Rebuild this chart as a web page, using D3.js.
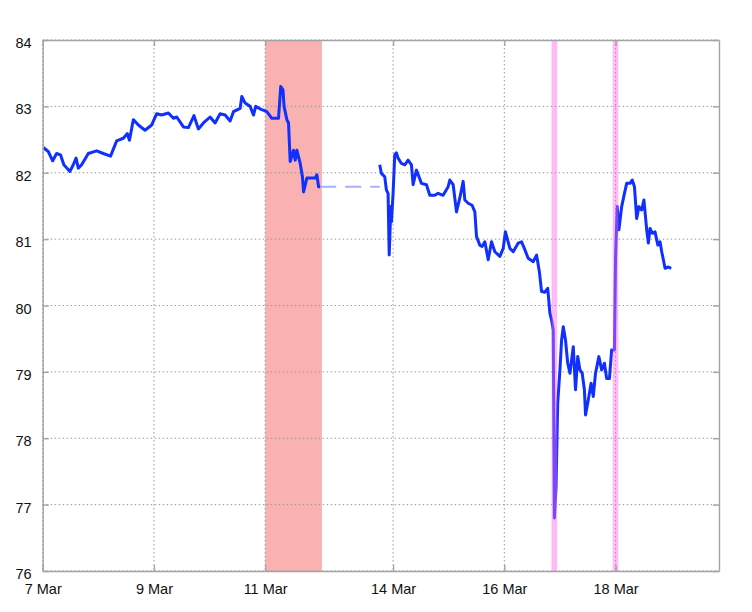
<!DOCTYPE html>
<html>
<head>
<meta charset="utf-8">
<script src="https://cdn.jsdelivr.net/npm/d3@7"></script>
<style>
  body { margin: 0; background: #fff; }
  text { font-family: "Liberation Sans", Arial, sans-serif; }
</style>
</head>
<body>
<svg class="chart"></svg>
<script>
// x is in trading days from 7 Mar (weekend squeezed out)
const dayTicks = [0, 2, 4, 6.3, 8.3, 10.3];
const dayLabels = ["7 Mar", "9 Mar", "11 Mar", "14 Mar", "16 Mar", "18 Mar"];
const rateTicks = [76, 77, 78, 79, 80, 81, 82, 83, 84];

const quakeDay = [4, 5.02];        // red band
const markerDays = [9.2, 10.3];    // pink lines

// before the weekend
const weekOne = [
  [0.01, 82.38], [0.10, 82.32], [0.18, 82.18], [0.25, 82.29], [0.32, 82.27],
  [0.38, 82.12], [0.49, 82.02], [0.55, 82.12], [0.60, 82.22], [0.64, 82.07],
  [0.70, 82.12], [0.82, 82.29], [0.97, 82.33], [1.09, 82.29], [1.22, 82.25],
  [1.33, 82.48], [1.45, 82.52], [1.52, 82.59], [1.56, 82.49], [1.63, 82.80],
  [1.72, 82.72], [1.84, 82.64], [1.96, 82.72], [2.05, 82.89], [2.14, 82.87],
  [2.26, 82.90], [2.35, 82.82], [2.41, 82.84], [2.53, 82.69], [2.62, 82.68],
  [2.72, 82.86], [2.80, 82.66], [2.89, 82.75], [3.01, 82.84], [3.10, 82.75],
  [3.19, 82.89], [3.28, 82.87], [3.37, 82.78], [3.43, 82.92], [3.55, 82.97],
  [3.58, 83.15], [3.64, 83.05], [3.73, 83.00], [3.79, 82.87], [3.83, 83.00],
  [3.94, 82.95], [4.03, 82.92], [4.12, 82.82], [4.24, 82.82], [4.28, 83.30],
  [4.32, 83.25], [4.34, 83.00], [4.39, 82.80], [4.42, 82.75], [4.45, 82.17],
  [4.51, 82.34], [4.54, 82.19], [4.57, 82.34], [4.63, 82.14], [4.67, 81.94],
  [4.69, 81.71], [4.75, 81.92], [4.81, 81.92], [4.90, 81.92], [4.93, 81.97],
  [4.96, 81.79], [4.99, 81.79]
];

// after the weekend
const weekTwo = [
  [6.06, 82.12], [6.09, 81.99], [6.15, 81.94], [6.18, 81.74], [6.21, 81.69],
  [6.23, 80.76], [6.26, 81.49], [6.27, 81.26], [6.30, 81.69], [6.33, 82.27],
  [6.36, 82.30], [6.39, 82.22], [6.45, 82.14], [6.51, 82.12], [6.57, 82.19],
  [6.63, 82.12], [6.66, 81.82], [6.72, 82.04], [6.81, 81.84], [6.90, 81.82],
  [6.96, 81.66], [7.05, 81.66], [7.11, 81.69], [7.20, 81.66], [7.29, 81.79],
  [7.32, 81.89], [7.38, 81.82], [7.44, 81.41], [7.50, 81.62], [7.56, 81.87],
  [7.59, 81.59], [7.65, 81.54], [7.72, 81.51], [7.77, 81.41], [7.80, 81.04],
  [7.86, 80.91], [7.90, 80.89], [7.95, 80.96], [8.01, 80.69], [8.07, 80.96],
  [8.13, 80.81], [8.22, 80.74], [8.28, 80.86], [8.32, 81.11], [8.40, 80.86],
  [8.46, 80.81], [8.55, 80.94], [8.61, 80.96], [8.66, 80.86], [8.73, 80.71],
  [8.82, 80.66], [8.88, 80.76], [8.93, 80.51], [8.97, 80.21], [9.03, 80.20],
  [9.08, 80.26], [9.12, 79.88], [9.15, 79.78], [9.18, 79.63], [9.20, 76.80],
  [9.23, 77.27], [9.26, 78.53], [9.30, 79.03], [9.33, 79.48], [9.36, 79.68],
  [9.40, 79.48], [9.44, 79.13], [9.48, 78.98], [9.54, 79.38], [9.58, 78.73],
  [9.62, 79.23], [9.66, 79.03], [9.70, 78.98], [9.74, 78.73], [9.76, 78.35],
  [9.81, 78.58], [9.86, 78.83], [9.90, 78.63], [9.94, 78.98], [10.00, 79.23],
  [10.05, 79.03], [10.10, 79.13], [10.14, 78.90], [10.19, 78.90], [10.23, 79.33],
  [10.28, 79.33], [10.30, 80.74], [10.33, 81.49], [10.36, 81.14], [10.41, 81.49],
  [10.46, 81.69], [10.50, 81.84], [10.56, 81.84], [10.60, 81.89], [10.64, 81.79],
  [10.68, 81.31], [10.72, 81.49], [10.77, 81.44], [10.81, 81.59], [10.86, 81.14],
  [10.89, 80.94], [10.92, 81.16], [10.96, 81.09], [11.01, 81.11], [11.06, 80.91],
  [11.10, 80.96], [11.13, 80.81], [11.16, 80.69], [11.19, 80.56], [11.25, 80.58],
  [11.30, 80.56]
];

const
  margin = {top: 40, right: 33, bottom: 41, left: 42.7},
  width = 676.3,
  height = 531;

const xScale = d3.scaleLinear()
  .domain([0, 12.16])
  .range([0, width]);

const yScale = d3.scaleLinear()
  .domain([76, 84])
  .range([height, 0]);

const svg = d3.select(".chart")
  .attr("width", 752)
  .attr("height", 612);

const g = svg.append("g")
  .attr("transform", `translate(${margin.left},${margin.top})`);

// red shading for 11 Mar
g.append("rect")
  .attr("x", xScale(quakeDay[0]))
  .attr("y", 0)
  .attr("width", xScale(quakeDay[1]) - xScale(quakeDay[0]))
  .attr("height", height)
  .attr("fill", "#f9b1b1");

// dotted grid
g.selectAll(".vgrid")
  .data(dayTicks)
  .enter()
  .append("line")
    .attr("x1", d => xScale(d))
    .attr("x2", d => xScale(d))
    .attr("y1", 0)
    .attr("y2", height)
    .attr("stroke", "#999")
    .attr("stroke-width", 1)
    .attr("stroke-dasharray", "1.5,2.5");

g.selectAll(".hgrid")
  .data(rateTicks)
  .enter()
  .append("line")
    .attr("x1", 0)
    .attr("x2", width)
    .attr("y1", d => yScale(d))
    .attr("y2", d => yScale(d))
    .attr("stroke", "#999")
    .attr("stroke-width", 1)
    .attr("stroke-dasharray", "1.5,2.5");

// weekend gap
const lastOne = weekOne[weekOne.length - 1];
g.append("line")
  .attr("x1", xScale(lastOne[0]))
  .attr("x2", xScale(weekTwo[0][0]))
  .attr("y1", yScale(lastOne[1]))
  .attr("y2", yScale(lastOne[1]))
  .attr("stroke", "#a9b0ff")
  .attr("stroke-width", 2)
  .attr("stroke-dasharray", "16,9");

const line = d3.line()
  .x(d => xScale(d[0]))
  .y(d => yScale(d[1]));

[weekOne, weekTwo].forEach(seg => {
  g.append("path")
    .datum(seg)
    .attr("d", line)
    .attr("fill", "none")
    .attr("stroke", "#1030ff")
    .attr("stroke-width", 3)
    .attr("stroke-linejoin", "round");
});

// pink markers
g.selectAll(".marker")
  .data(markerDays)
  .enter()
  .append("rect")
    .attr("x", d => xScale(d) - 2.8)
    .attr("y", 0)
    .attr("width", 5.6)
    .attr("height", height)
    .attr("fill", "#ff66ee")
    .attr("opacity", 0.45);

// axes box with inward ticks
const xAxis = d3.axisBottom(xScale)
  .tickValues(dayTicks)
  .tickFormat((d, i) => dayLabels[i])
  .tickSizeInner(-6)
  .tickSizeOuter(0)
  .tickPadding(12);

const yAxis = d3.axisLeft(yScale)
  .tickValues(rateTicks)
  .tickFormat(d3.format("d"))
  .tickSizeInner(-6)
  .tickSizeOuter(0)
  .tickPadding(11);

const axisX = g.append("g")
  .attr("transform", `translate(0,${height})`)
  .call(xAxis);

const axisY = g.append("g")
  .call(yAxis);

g.append("g")
  .call(d3.axisTop(xScale).tickValues(dayTicks).tickFormat("").tickSizeInner(-6).tickSizeOuter(0));

g.append("g")
  .attr("transform", `translate(${width},0)`)
  .call(d3.axisRight(yScale).tickValues(rateTicks).tickFormat("").tickSizeInner(-6).tickSizeOuter(0));

g.selectAll(".domain, .tick line")
  .attr("stroke", "#a3a3a3")
  .attr("stroke-width", 1.4);

g.selectAll(".tick text")
  .attr("fill", "#111")
  .style("font-size", "14.5px");

axisX.selectAll(".tick text")
  .attr("dy", "0.75em");

axisY.selectAll(".tick text")
  .attr("dy", "0.52em");
</script>
</body>
</html>
